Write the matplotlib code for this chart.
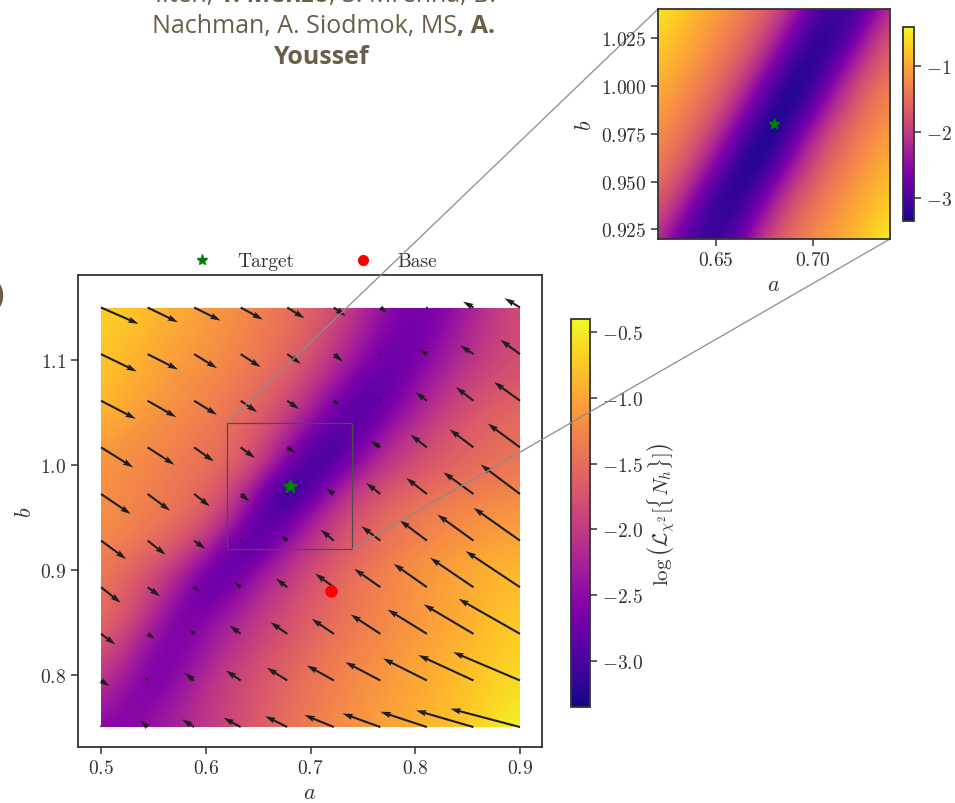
import numpy as np
import matplotlib as mpl
import matplotlib.pyplot as plt
from matplotlib.patches import Rectangle
from matplotlib.lines import Line2D
from mpl_toolkits.axes_grid1.inset_locator import mark_inset

# display parameters
mpl.rcParams['font.family'] = 'serif'
mpl.rcParams['font.serif'] = ['cmr10', 'DejaVu Serif']
mpl.rcParams['mathtext.fontset'] = 'cm'
mpl.rcParams['axes.formatter.use_mathtext'] = True
mpl.rcParams['xtick.direction'] = 'out'
mpl.rcParams['ytick.direction'] = 'out'

# ---- data ----
# main map: log loss on a 0.025 grid, a = 0.5..0.9 (cols), b = 0.75..1.15 (rows)
a_grid = np.arange(17) * 0.025 + 0.5
b_grid = np.arange(17) * 0.025 + 0.75
loss_main = [
    [-2.55, -2.58, -2.40, -2.22, -2.03, -1.85, -1.66, -1.49, -1.34, -1.22, -1.12, -1.02, -0.93, -0.83, -0.70, -0.55, -0.42],
    [-2.25, -2.60, -2.55, -2.33, -2.07, -1.88, -1.71, -1.54, -1.40, -1.27, -1.16, -1.06, -0.97, -0.87, -0.76, -0.64, -0.53],
    [-1.99, -2.33, -2.70, -2.50, -2.17, -1.94, -1.76, -1.60, -1.43, -1.32, -1.20, -1.09, -1.00, -0.90, -0.80, -0.70, -0.62],
    [-1.74, -2.09, -2.55, -2.65, -2.37, -2.10, -1.87, -1.70, -1.53, -1.39, -1.27, -1.17, -1.06, -0.96, -0.85, -0.75, -0.67],
    [-1.52, -1.80, -2.25, -2.74, -2.50, -2.25, -2.00, -1.80, -1.63, -1.47, -1.34, -1.23, -1.12, -1.02, -0.93, -0.79, -0.72],
    [-1.43, -1.66, -1.98, -2.47, -2.85, -2.52, -2.18, -1.91, -1.71, -1.52, -1.37, -1.25, -1.14, -1.04, -0.95, -0.87, -0.79],
    [-1.37, -1.55, -1.78, -2.12, -2.68, -2.90, -2.48, -2.10, -1.83, -1.62, -1.44, -1.29, -1.16, -1.07, -0.98, -0.89, -0.85],
    [-1.25, -1.36, -1.51, -1.72, -2.09, -2.80, -2.95, -2.48, -2.06, -1.78, -1.57, -1.42, -1.30, -1.19, -1.11, -1.04, -0.98],
    [-1.17, -1.26, -1.36, -1.48, -1.70, -2.15, -2.95, -2.90, -2.38, -1.95, -1.69, -1.50, -1.38, -1.29, -1.21, -1.15, -1.10],
    [-1.16, -1.25, -1.33, -1.43, -1.56, -1.87, -2.50, -3.30, -2.95, -2.30, -1.92, -1.71, -1.56, -1.45, -1.37, -1.31, -1.25],
    [-1.14, -1.21, -1.28, -1.37, -1.46, -1.60, -1.90, -2.60, -3.12, -2.90, -2.38, -2.00, -1.80, -1.65, -1.54, -1.46, -1.40],
    [-1.03, -1.14, -1.22, -1.30, -1.40, -1.53, -1.75, -2.16, -2.78, -3.05, -2.72, -2.28, -1.97, -1.77, -1.62, -1.53, -1.47],
    [-0.87, -1.00, -1.13, -1.22, -1.31, -1.44, -1.60, -1.87, -2.30, -2.78, -2.98, -2.64, -2.27, -1.97, -1.76, -1.62, -1.55],
    [-0.80, -0.92, -1.04, -1.15, -1.24, -1.35, -1.50, -1.69, -2.02, -2.42, -2.85, -2.82, -2.48, -2.17, -1.92, -1.77, -1.67],
    [-0.75, -0.86, -0.98, -1.08, -1.17, -1.27, -1.38, -1.55, -1.77, -2.12, -2.50, -2.82, -2.66, -2.37, -2.10, -1.90, -1.80],
    [-0.70, -0.80, -0.90, -1.01, -1.11, -1.23, -1.34, -1.47, -1.66, -1.96, -2.30, -2.65, -2.74, -2.50, -2.21, -1.96, -1.81],
    [-0.67, -0.74, -0.84, -0.95, -1.06, -1.17, -1.30, -1.43, -1.60, -1.81, -2.17, -2.48, -2.72, -2.60, -2.30, -2.03, -1.80],
]

# zoomed map: 0.01 grid, a = 0.62..0.74, b = 0.92..1.04
a_zoom = np.arange(13) * 0.01 + 0.62
b_zoom = np.arange(13) * 0.01 + 0.92
loss_zoom = [
    [-2.13, -2.72, -3.08, -3.10, -2.83, -2.24, -1.76, -1.46, -1.24, -1.05, -0.87, -0.69, -0.45],
    [-1.84, -2.36, -2.94, -3.16, -3.10, -2.60, -2.02, -1.62, -1.37, -1.16, -0.98, -0.80, -0.62],
    [-1.66, -2.07, -2.66, -3.15, -3.20, -2.89, -2.30, -1.80, -1.49, -1.26, -1.06, -0.89, -0.71],
    [-1.49, -1.80, -2.30, -2.89, -3.24, -3.18, -2.66, -2.07, -1.66, -1.40, -1.18, -0.99, -0.81],
    [-1.35, -1.59, -1.97, -2.54, -3.10, -3.30, -3.00, -2.42, -1.88, -1.54, -1.31, -1.10, -0.92],
    [-1.24, -1.46, -1.76, -2.24, -2.83, -3.28, -3.24, -2.72, -2.13, -1.69, -1.42, -1.20, -1.01],
    [-1.12, -1.33, -1.56, -1.92, -2.48, -3.05, -3.34, -3.05, -2.48, -1.92, -1.56, -1.33, -1.12],
    [-1.01, -1.20, -1.42, -1.69, -2.13, -2.72, -3.24, -3.28, -2.83, -2.24, -1.76, -1.46, -1.24],
    [-0.92, -1.10, -1.31, -1.54, -1.88, -2.42, -3.00, -3.30, -3.10, -2.54, -1.97, -1.59, -1.35],
    [-0.81, -0.99, -1.18, -1.40, -1.66, -2.07, -2.66, -3.18, -3.24, -2.89, -2.30, -1.80, -1.49],
    [-0.71, -0.89, -1.06, -1.26, -1.49, -1.80, -2.30, -2.89, -3.20, -3.15, -2.66, -2.07, -1.66],
    [-0.62, -0.80, -0.98, -1.16, -1.37, -1.62, -2.02, -2.60, -3.10, -3.16, -2.94, -2.36, -1.84],
    [-0.50, -0.69, -0.87, -1.05, -1.24, -1.46, -1.76, -2.24, -2.83, -3.10, -3.08, -2.72, -2.13],
]

# arrow grid (10 x 10) and arrow components in units of 1e-3
arrow_a = np.linspace(0.5, 0.9, 10)
arrow_b = np.linspace(0.75, 1.15, 10)
arrow_u = [
    [-1.0, -6.8, -11.6, -16.4, -21.1, -28.0, -36.1, -44.3, -54.9, -66.5],
    [7.8, -2.7, -8.9, -14.0, -19.4, -25.6, -33.4, -41.9, -52.5, -63.8],
    [13.6, 6.8, -4.8, -10.6, -16.0, -21.1, -28.3, -37.5, -47.4, -58.7],
    [18.8, 11.9, 5.5, -6.1, -10.9, -17.7, -24.9, -31.7, -41.3, -51.8],
    [23.9, 17.1, 10.9, -0.5, -5.8, -12.6, -18.1, -25.9, -34.4, -44.3],
    [28.3, 21.5, 15.0, 8.2, -1.0, -7.5, -13.6, -19.8, -28.6, -37.5],
    [30.7, 25.6, 18.8, 13.6, 7.8, 2.0, -9.5, -15.7, -22.8, -30.7],
    [33.1, 27.3, 21.8, 15.7, 11.3, 5.1, -3.4, -11.3, -16.7, -24.6],
    [34.1, 29.0, 21.8, 19.1, 13.0, 8.5, 1.7, -6.8, -12.6, -18.8],
    [35.8, 29.0, 25.2, 21.1, 16.4, 11.3, 6.8, -1.0, -9.9, -14.7],
]
arrow_v = [
    [2.0, 5.7, 7.3, 8.9, 10.5, 11.5, 13.0, 14.6, 15.9, 17.5],
    [-5.4, 3.2, 7.3, 9.5, 12.1, 14.3, 17.5, 21.0, 24.2, 27.0],
    [-10.2, -4.8, 4.1, 8.0, 11.1, 14.3, 18.4, 23.2, 28.0, 33.4],
    [-14.9, -8.6, -3.8, 4.8, 8.3, 13.0, 17.5, 22.3, 28.0, 34.4],
    [-17.5, -13.4, -8.0, 1.6, 4.8, 10.5, 13.7, 19.4, 24.8, 31.2],
    [-19.1, -15.9, -11.8, -7.0, -1.0, 5.7, 10.5, 15.3, 20.7, 28.0],
    [-19.1, -16.5, -13.4, -10.2, -5.4, -1.6, 6.4, 12.1, 17.2, 22.6],
    [-17.2, -15.6, -13.4, -10.8, -8.0, -4.5, 2.5, 8.3, 13.0, 17.8],
    [-16.5, -14.6, -13.4, -12.4, -9.2, -7.0, -1.6, 4.5, 8.3, 13.7],
    [-15.6, -14.0, -12.4, -11.5, -10.2, -8.3, -5.1, 1.6, 5.7, 8.9],
]

target = (0.68, 0.98)
base = (0.72, 0.88)
zoom_box = (0.62, 0.74, 0.92, 1.04)

W, H = 955, 804
ink = '#333333'
brown = '#6a5e48'

fig = plt.figure(figsize=(W / 100, H / 100), dpi=100)

def style(ax, size=14):
    for s in ax.spines.values():
        s.set_color(ink)
        s.set_linewidth(1.3)
    ax.tick_params(colors=ink, labelsize=size, length=5, width=1.1)

# main panel
ax = fig.add_axes([78 / W, 1 - 748 / H, 464 / W, 472 / H])
step = 0.025
im = ax.imshow(loss_main, origin='lower', cmap='plasma', vmin=-3.35, vmax=-0.40,
               interpolation='bicubic', aspect='auto',
               extent=(a_grid[0] - step / 2, a_grid[-1] + step / 2,
                       b_grid[0] - step / 2, b_grid[-1] + step / 2))
im.set_clip_path(Rectangle((a_grid[0], b_grid[0]), a_grid[-1] - a_grid[0],
                           b_grid[-1] - b_grid[0], transform=ax.transData))
A, B = np.meshgrid(arrow_a, arrow_b)
ax.quiver(A, B, np.array(arrow_u) * 1e-3, np.array(arrow_v) * 1e-3,
          angles='xy', scale_units='xy', scale=1, color='#1e1e1e',
          width=0.0045, zorder=3)
ax.plot(*target, '*', color='green', ms=10, zorder=4, lw=0)
ax.plot(*base, 'o', color='red', ms=8, zorder=4, lw=0)
ax.set_xlim(0.478, 0.921)
ax.set_ylim(0.731, 1.181)
ax.set_xticks([0.5, 0.6, 0.7, 0.8, 0.9])
ax.set_yticks([0.8, 0.9, 1.0, 1.1])
ax.set_xlabel('$a$', fontsize=16, color=ink)
ax.set_ylabel('$b$', fontsize=16, color=ink)
style(ax)
handles = [Line2D([], [], ls='', marker='*', color='green', ms=8),
           Line2D([], [], ls='', marker='o', color='red', ms=7)]
ax.legend(handles, ['Target', 'Base'], loc='lower center', bbox_to_anchor=(0.5, 0.985),
          ncol=2, frameon=False, fontsize=14, columnspacing=2.5, borderaxespad=0.2,
          labelcolor=ink)

cax = fig.add_axes([571 / W, 1 - 708 / H, 19 / W, 388 / H])
cb = fig.colorbar(im, cax=cax, ticks=[-3.0, -2.5, -2.0, -1.5, -1.0, -0.5])
cb.outline.set_edgecolor(ink)
cb.outline.set_linewidth(1.3)
cax.tick_params(colors=ink, labelsize=14, length=5, width=1.1)
cb.set_label(r'$\log\left(\mathcal{L}_{\chi^2}[\{N_h\}]\right)$', fontsize=15,
             color=ink, labelpad=2)

# zoomed panel
axins = fig.add_axes([658 / W, 1 - 240 / H, 232 / W, 230 / H])
dz = 0.01
imz = axins.imshow(loss_zoom, origin='lower', cmap='plasma', vmin=-3.34, vmax=-0.41,
                   interpolation='bicubic', aspect='auto',
                   extent=(a_zoom[0] - dz / 2, a_zoom[-1] + dz / 2,
                           b_zoom[0] - dz / 2, b_zoom[-1] + dz / 2))
axins.plot(*target, '*', color='green', ms=8, lw=0)
axins.set_xlim(zoom_box[0], zoom_box[1])
axins.set_ylim(zoom_box[2], zoom_box[3])
axins.set_xticks([0.65, 0.70])
axins.set_yticks([0.925, 0.95, 0.975, 1.0, 1.025])
axins.set_xlabel('$a$', fontsize=16, color=ink)
axins.set_ylabel('$b$', fontsize=16, color=ink)
style(axins)

caxi = fig.add_axes([903 / W, 1 - 222 / H, 11 / W, 194 / H])
cbi = fig.colorbar(imz, cax=caxi, ticks=[-3, -2, -1])
cbi.outline.set_edgecolor(ink)
cbi.outline.set_linewidth(1.3)
caxi.tick_params(colors=ink, labelsize=14, length=5, width=1.1)

box, c1, c2 = mark_inset(ax, axins, loc1=2, loc2=4, fc='none', ec='0.3', lw=0.9)
c1.set_edgecolor('0.55')
c2.set_edgecolor('0.55')

# slide text above the chart (partly cut off at the top, as in the slide)
hdr = fig.add_axes([0, 0, 1, 1])
hdr.axis('off')
hdr.set_zorder(-1)
tf = dict(family='Open Sans', fontsize=18, color=brown)

def line(x, y, parts):
    prev = None
    for txt, bold in parts:
        w = 'bold' if bold else 'normal'
        if prev is None:
            prev = hdr.text(x / W, 1 - y / H, txt, ha='left', va='baseline',
                            fontweight=w, transform=hdr.transAxes, **tf)
        else:
            prev = hdr.annotate(txt, xy=(1, 0), xycoords=prev, ha='left',
                                va='bottom', fontweight=w, **tf)

line(155, 2, [('Ilten, ', False), ('T. Menzo', True), (', S. Mrenna, B.', False)])
line(152, 33, [('Nachman, A. Siodmok, MS', False), (', A.', True)])
line(273, 64, [('Youssef', True)])
fig.text(4 / W, 1 - 304 / H, ')', ha='right', va='baseline', family='Open Sans',
         fontsize=20, fontweight='bold', color=brown)

fig.savefig('out.png', dpi=100)
